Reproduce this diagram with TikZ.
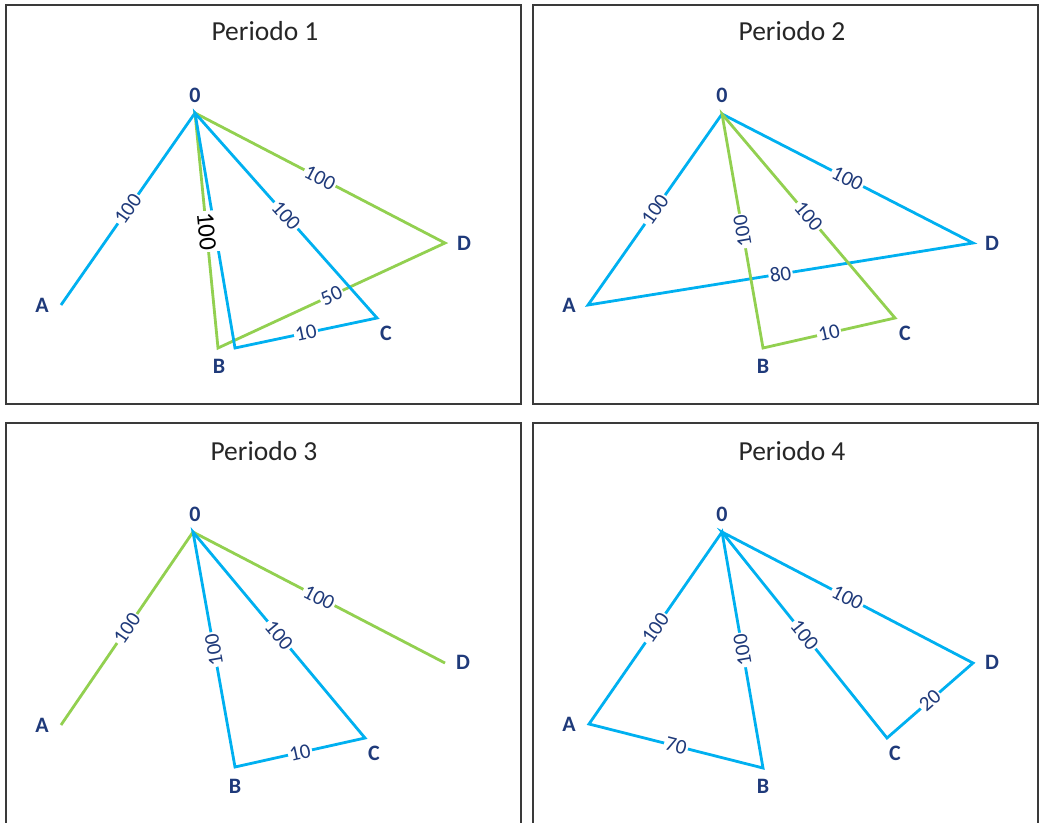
\documentclass[tikz,border=0pt]{standalone}
\usepackage{fontspec}
\setmainfont{Carlito}
\definecolor{lblue}{HTML}{00B0F0}
\definecolor{lgreen}{HTML}{92D050}
\definecolor{navy}{HTML}{1F3A7A}
\definecolor{frame}{HTML}{3A3A3A}
\begin{document}
\begin{tikzpicture}[x=1pt,y=-1pt,
  bl/.style={draw=lblue,line width=2.8pt,line join=miter},
  gr/.style={draw=lgreen,line width=2.8pt,line join=miter},
  wl/.style={sloped,fill=white,inner sep=1.5pt,text=navy,font=\fontsize{21}{21}\selectfont},
  wlk/.style={sloped,fill=white,inner xsep=1.5pt,inner ysep=4pt,text=black,font=\fontsize{25}{25}\selectfont},
  vx/.style={text=navy,inner sep=0pt,font=\fontsize{22}{22}\selectfont\bfseries},
  ttl/.style={text=black!85,inner sep=0pt,font=\fontsize{27.5}{27.5}\selectfont},
  frm/.style={draw=frame,line width=1.4pt}]
\useasboundingbox (0,0) rectangle (1040,822);
% frames
\draw[frm] (6,5) rectangle (521,404);
\draw[frm] (533,5) rectangle (1038,404);
\draw[frm] (6,826) -- (6,423) -- (521,423) -- (521,826);
\draw[frm] (533,826) -- (533,423) -- (1038,423) -- (1038,826);
% titles
\node[ttl] (t1) at (265,31) {Periodo 1};
\node[ttl] (t2) at (792,31) {Periodo 2};
\node[ttl] (t3) at (264,451) {Periodo 3};
\node[ttl] (t4) at (792,451) {Periodo 4};

% ---------- Panel 1 ----------
\coordinate (aO) at (195,113);
\coordinate (aA) at (61,305);
\coordinate (aBg) at (218,348);
\coordinate (aBb) at (235,348);
\coordinate (aC) at (377,318);
\coordinate (aD) at (445,243);
\node[vx] (la0) at (195,95) {0};
\node[vx] (laA) at (42,305) {A};
\node[vx] (laB) at (219,366) {B};
\node[vx] (laC) at (386,333) {C};
\node[vx] (laD) at (464,243) {D};
\draw[bl] (aO) -- (aA);
\draw[gr] (aO) -- (aBg) -- (aD) -- cycle;
\draw[bl] (aO) -- (aBb) -- (aC) -- cycle;
\path (aO) -- (aA) node[wl,midway] {100};
\path (aO) -- (aBg) node[wlk,midway,xshift=1pt] {100};
\path (aO) -- (aC) node[wl,midway] {100};
\path (aO) -- (aD) node[wl,midway] {100};
\path (aBg) -- (aD) node[wl,midway] {50};
\path (aBb) -- (aC) node[wl,midway] {10};

% ---------- Panel 2 ----------
\coordinate (bO) at (722,114);
\coordinate (bA) at (588,305);
\coordinate (bB) at (763,348);
\coordinate (bC) at (895,318);
\coordinate (bD) at (973,243);
\node[vx] (lb0) at (722,95) {0};
\node[vx] (lbA) at (569,305) {A};
\node[vx] (lbB) at (763,366) {B};
\node[vx] (lbC) at (905,333) {C};
\node[vx] (lbD) at (992,243) {D};
\draw[bl] (bO) -- (bA) -- (bD) -- cycle;
\draw[gr] (bO) -- (bB) -- (bC) -- cycle;
\path (bO) -- (bA) node[wl,midway] {100};
\path (bB) -- (bO) node[wl,midway,allow upside down] {100};
\path (bO) -- (bC) node[wl,midway] {100};
\path (bO) -- (bD) node[wl,midway] {100};
\path (bA) -- (bD) node[wl,midway] {80};
\path (bB) -- (bC) node[wl,midway] {10};

% ---------- Panel 3 ----------
\coordinate (cO) at (193,532);
\coordinate (cA) at (61,725);
\coordinate (cB) at (235,767);
\coordinate (cC) at (365,738);
\coordinate (cD) at (445,663);
\node[vx] (lc0) at (195,514) {0};
\node[vx] (lcA) at (42,725) {A};
\node[vx] (lcB) at (235,786) {B};
\node[vx] (lcC) at (374,753) {C};
\node[vx] (lcD) at (463,662) {D};
\draw[gr] (cA) -- (cO) -- (cD);
\draw[bl] (cO) -- (cB) -- (cC) -- cycle;
\path (cO) -- (cA) node[wl,midway] {100};
\path (cB) -- (cO) node[wl,midway,allow upside down] {100};
\path (cO) -- (cC) node[wl,midway] {100};
\path (cO) -- (cD) node[wl,midway] {100};
\path (cB) -- (cC) node[wl,midway] {10};

% ---------- Panel 4 ----------
\coordinate (dO) at (722,532);
\coordinate (dA) at (589,724);
\coordinate (dB) at (763,768);
\coordinate (dC) at (887,738);
\coordinate (dD) at (973,663);
\node[vx] (ld0) at (722,514) {0};
\node[vx] (ldA) at (569,724) {A};
\node[vx] (ldB) at (763,786) {B};
\node[vx] (ldC) at (895,753) {C};
\node[vx] (ldD) at (992,662) {D};
\draw[bl] (dO) -- (dA) -- (dB) -- cycle;
\draw[bl] (dO) -- (dC) -- (dD) -- cycle;
\path (dO) -- (dA) node[wl,midway] {100};
\path (dB) -- (dO) node[wl,midway,allow upside down] {100};
\path (dO) -- (dC) node[wl,midway] {100};
\path (dO) -- (dD) node[wl,midway] {100};
\path (dA) -- (dB) node[wl,midway] {70};
\path (dC) -- (dD) node[wl,midway] {20};
\end{tikzpicture}
\end{document}
